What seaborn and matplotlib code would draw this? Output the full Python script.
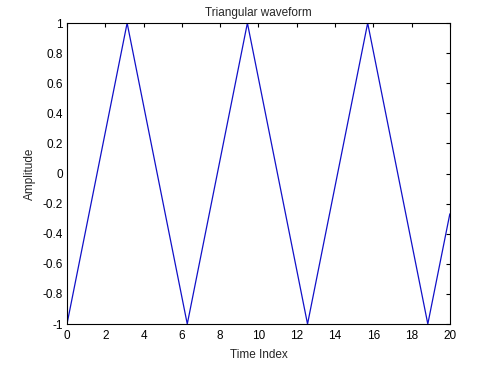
import matplotlib
matplotlib.use("Agg")
import matplotlib.pyplot as plt
import seaborn as sns
import pandas as pd
import numpy as np

# Vertices of the triangular waveform
time_index = [0.0, 3.1416, 6.2832, 9.4248, 12.5664, 15.7080, 18.8496, 20.0]
amplitude = [-1.0, 1.0, -1.0, 1.0, -1.0, 1.0, -1.0, -0.268]
x_ticks = [0, 2, 4, 6, 8, 10, 12, 14, 16, 18, 20]
y_ticks = [-1, -0.8, -0.6, -0.4, -0.2, 0, 0.2, 0.4, 0.6, 0.8, 1]

sns.set_theme(style="white")
plt.rcParams['font.family'] = ['Liberation Sans', 'DejaVu Sans']

df = pd.DataFrame({"Time Index": time_index, "Amplitude": amplitude})

fig = plt.figure(figsize=(4.94, 3.72), dpi=100)
ax = fig.add_axes([0.1356, 0.129, 0.775, 0.809])
sns.lineplot(data=df, x="Time Index", y="Amplitude", ax=ax, color="#1010c8", linewidth=0.9)

ax.set_xlim(0, 20)
ax.set_ylim(-1, 1)
ax.set_xticks(x_ticks)
ax.set_yticks(y_ticks)
ax.set_xticklabels([str(t) for t in x_ticks])
ax.set_yticklabels(["%g" % t for t in y_ticks])
ax.tick_params(direction="in", length=3, width=0.8, top=True, right=True,
               labelsize=8.5, colors="black", pad=3)
ax.tick_params(axis="x", labeltop=False, pad=4)
ax.tick_params(axis="y", labelright=False)
for s in ax.spines.values():
    s.set_color("black")
    s.set_linewidth(0.8)
ax.set_xlabel("Time Index", fontsize=8.5, labelpad=5)
ax.set_ylabel("Amplitude", fontsize=8.5, labelpad=5)
ax.set_title("Triangular waveform", fontsize=8.5, pad=5)
ax.grid(False)

fig.savefig("out.png", dpi=100, facecolor="white")
